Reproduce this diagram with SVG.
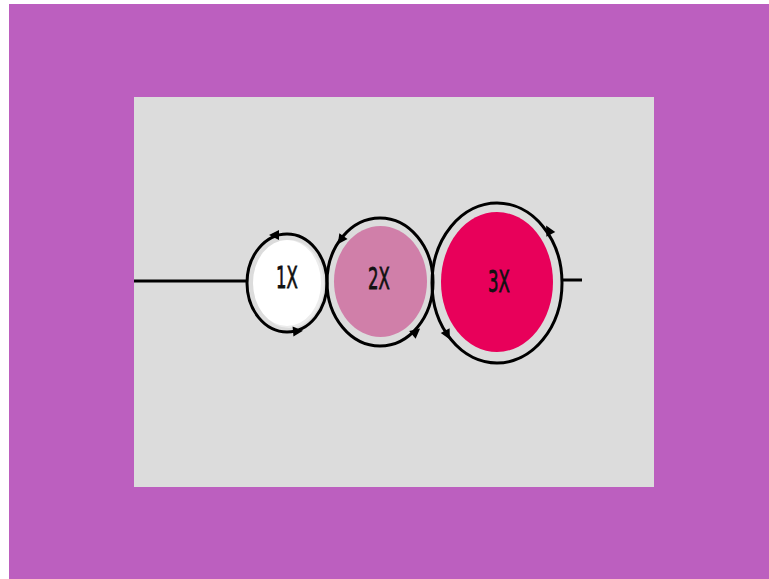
<svg xmlns="http://www.w3.org/2000/svg" xmlns:xlink="http://www.w3.org/1999/xlink" width="769" height="579" viewBox="0 0 769 579">
<style>
.ring{fill:none;stroke:#000;stroke-width:3}
.ln{stroke:#000;stroke-width:3}
.lbl{font-family:"DejaVu Sans","Liberation Sans",sans-serif;font-size:30px;fill:#111;stroke:#111;stroke-width:0.8;text-anchor:middle}
</style>
<defs>
<path id="ah" d="M4,0 L-6,-5 L-6,5 Z" fill="#000"/>
</defs>
<rect width="769" height="579" fill="#fff"/>
<rect x="9" y="4" width="760" height="575" fill="#bc5fbf"/>
<rect x="134" y="97" width="520" height="390" fill="#dcdcdc"/>
<g id="connectors">
<line class="ln" x1="134" y1="281" x2="246" y2="281"/>
<line class="ln" x1="562" y1="280" x2="582" y2="280"/>
</g>
<g id="node1">
<ellipse cx="289" cy="284" rx="35" ry="44" fill="#ececec"/>
<ellipse cx="287" cy="283" rx="34" ry="43" fill="#fff"/>
<ellipse class="ring" cx="287" cy="283" rx="40" ry="49"/>
<use xlink:href="#ah" transform="translate(273,235) rotate(180)"/>
<use xlink:href="#ah" transform="translate(299,331) rotate(-5)"/>
<text class="lbl" transform="translate(287,288) scale(0.55,1)">1X</text>
</g>
<g id="node2">
<ellipse cx="380.5" cy="281.5" rx="46.5" ry="55.5" fill="#d07fa9"/>
<ellipse class="ring" cx="380" cy="282" rx="53" ry="64"/>
<use xlink:href="#ah" transform="translate(340,241) rotate(125)"/>
<use xlink:href="#ah" transform="translate(417,331) rotate(-40)"/>
<text class="lbl" transform="translate(379,289) scale(0.55,1)">2X</text>
</g>
<g id="node3">
<ellipse cx="497" cy="282" rx="56" ry="70" fill="#e8005a"/>
<ellipse class="ring" cx="497" cy="283" rx="65" ry="80"/>
<use xlink:href="#ah" transform="translate(548,229) rotate(-118)"/>
<use xlink:href="#ah" transform="translate(448,336) rotate(62)"/>
<text class="lbl" transform="translate(499,292) scale(0.55,1)">3X</text>
</g>
</svg>
